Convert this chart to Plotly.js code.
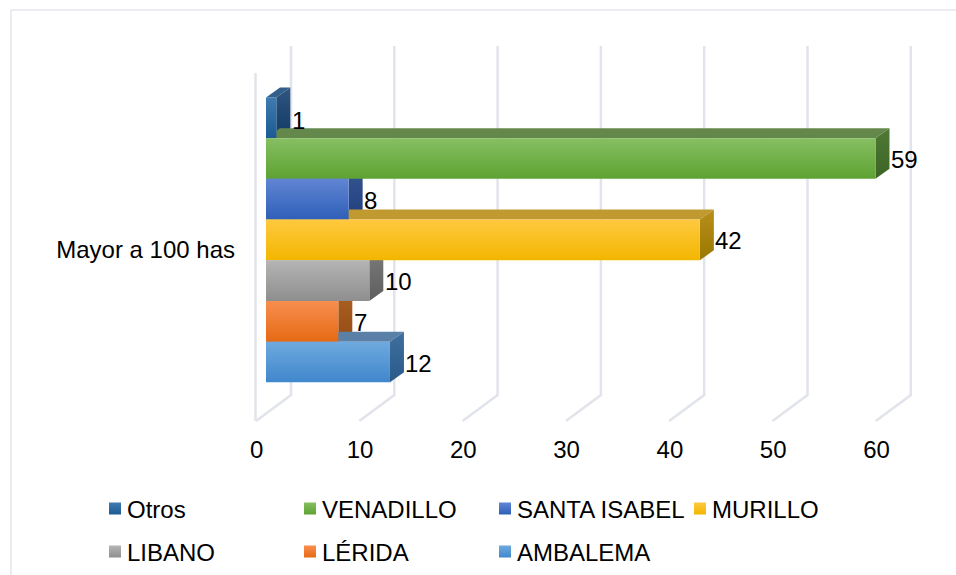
<!DOCTYPE html>
<html><head><meta charset="utf-8">
<script src="https://cdn.plot.ly/plotly-3.0.1.min.js"></script>
<style>html,body{margin:0;padding:0;background:#fff}#c{width:956px;height:575px}</style>
</head><body><div id="c"></div>
<script>
// Data (top to bottom on the chart)
const seriesNames = ['Otros','VENADILLO','SANTA ISABEL','MURILLO','LIBANO','LÉRIDA','AMBALEMA'];
const seriesValues = [1,59,8,42,10,7,12];
const categoryLabel = 'Mayor a 100 has';
const tickValues = [0,10,20,30,40,50,60];
// Colours: front gradient top/bottom, top face, side face top/bottom
const frontTop = ['#3f7bb0','#86bf62','#6085d3','#ffc93f','#b5b5b5','#f88e4f','#6fa9df'];
const frontBot = ['#1b5a94','#5ea232','#2f5fb8','#f2b600','#8e8e8e','#e56a14','#3f87cc'];
const topFace  = ['#335f8c','#64884c','#3a5c9a','#c09a30','#7f7f7f','#b8642c','#5a80a8'];
const sideTop  = ['#2f5580','#4f7a35','#35558f','#b88f1c','#7a7a7a','#ab6125','#3f6f9f'];
const sideBot  = ['#123a63','#3d6425','#213f7f','#9a7800','#5e5e5e','#964c12','#2a5a8a'];

// Scale constants of the pseudo-3D frame
const W=956,H=575,plotBottom=425,plotLeft=236,fontSize=24,fontFam='Liberation Sans, Arial, sans-serif';
const pxPerX=10.33, x0px=266, pxPerY=40.7, y0px=362;
const xOf=px=>(px-x0px)/pxPerX, yOf=px=>(y0px-px)/pxPerY;
const pX=px=>(px-plotLeft)/(W-plotLeft), pY=px=>(plotBottom-px)/plotBottom;
const depthX=14/pxPerX, depthY=10/pxPerY;
const ypos=seriesNames.map((_,i)=>seriesNames.length-1-i);
const gridColor='#e2e4ec';

const shapes=[];
// Frame
shapes.push({type:'path',xref:'paper',yref:'paper',
  path:`M ${pX(11)} ${pY(575)} L ${pX(11)} ${pY(10)} L ${pX(956)} ${pY(10)}`,
  line:{color:'#e4e6ee',width:1.5},layer:'below'});
// Left wall of the frame
shapes.push({type:'line',xref:'x',yref:'y',x0:-10.5/pxPerX,x1:-10.5/pxPerX,y0:yOf(73),y1:yOf(421),line:{color:gridColor,width:2.5},layer:'below'});
// Floor / back-wall gridlines
tickValues.forEach(t=>{
  const fx=t-10/pxPerX, bx=t+25/pxPerX;
  shapes.push({type:'path',xref:'x',yref:'y',layer:'below',line:{color:gridColor,width:2.5},
    path:`M ${fx} ${yOf(421)} L ${bx} ${yOf(395)} L ${bx} ${yOf(46)}`});
});
const firstFaceShape=shapes.length;
// Top and side faces, computed from the values
seriesValues.forEach((v,i)=>{
  const y=ypos[i], t=y+0.5, b=y-0.5;
  shapes.push({type:'path',xref:'x',yref:'y',layer:'below',fillcolor:topFace[i],line:{width:0},
    path:`M 0 ${t} L ${depthX} ${t+depthY} L ${v+depthX} ${t+depthY} L ${v} ${t} Z`});
  shapes.push({type:'path',xref:'x',yref:'y',layer:'below',fillcolor:sideBot[i],line:{width:0},
    path:`M ${v} ${t} L ${v+depthX} ${t+depthY} L ${v+depthX} ${b+depthY} L ${v} ${b} Z`});
});

const traces=seriesNames.map((n,i)=>({
  type:'bar',orientation:'h',name:n,x:[seriesValues[i]],y:[ypos[i]],width:[1],
  marker:{color:frontBot[i],line:{width:0}},
  legend:i<4?'legend':'legend2',hoverinfo:'x+name',showlegend:true,cliponaxis:false
}));

// Value labels, placed past the end of the side face
const annotations=seriesValues.map((v,i)=>({
  x:v+depthX,y:ypos[i],xref:'x',yref:'y',text:String(v),showarrow:false,xanchor:'left',yanchor:'middle',
  xshift:-0.5,yshift:i===0?-3:-1,font:{family:fontFam,size:fontSize,color:'#000'}
}));

const legendCommon={orientation:'h',xanchor:'left',yanchor:'middle',bgcolor:'rgba(0,0,0,0)',
  entrywidth:150,entrywidthmode:'pixels',font:{family:fontFam,size:fontSize,color:'#000'},
  traceorder:'normal',itemclick:false,itemdoubleclick:false};
const layout={
  width:W,height:H,margin:{l:plotLeft,r:0,t:0,b:H-plotBottom,pad:0,autoexpand:false},
  paper_bgcolor:'#fff',plot_bgcolor:'#fff',barmode:'overlay',showlegend:true,
  font:{family:fontFam,size:fontSize,color:'#000'},
  xaxis:{range:[xOf(plotLeft),xOf(W)],tickmode:'array',tickvals:tickValues.map(t=>t-9.3/pxPerX),ticktext:tickValues.map(String),
    showgrid:false,zeroline:false,showline:false,ticks:'outside',ticklen:3,tickcolor:'rgba(0,0,0,0)',tickfont:{size:fontSize}},
  yaxis:{range:[yOf(plotBottom),yOf(0)],tickmode:'array',tickvals:[yOf(250)],ticktext:[categoryLabel],
    showgrid:false,zeroline:false,showline:false,ticks:'',tickfont:{size:fontSize},automargin:false},
  legend:Object.assign({x:pX(87),y:pY(509)},legendCommon),
  legend2:Object.assign({x:pX(87),y:pY(552)},legendCommon),
  shapes,annotations
};

function paint(gd){
  const svg=gd.querySelector('svg.main-svg');
  const ns='http://www.w3.org/2000/svg';
  const defs=svg.querySelector('defs');
  const mkGrad=(id,c1,c2)=>{
    if(document.getElementById(id)) return;
    const g=document.createElementNS(ns,'linearGradient');
    g.setAttribute('id',id);g.setAttribute('x1','0');g.setAttribute('y1','0');g.setAttribute('x2','0');g.setAttribute('y2','1');
    [[0,c1],[1,c2]].forEach(([o,c])=>{const s=document.createElementNS(ns,'stop');s.setAttribute('offset',o);s.setAttribute('stop-color',c);g.appendChild(s);});
    defs.appendChild(g);
  };
  seriesNames.forEach((n,i)=>{mkGrad('gf'+i,frontTop[i],frontBot[i]);mkGrad('gs'+i,sideTop[i],sideBot[i]);});
  gd.querySelectorAll('.barlayer .trace.bars').forEach((tr,i)=>{
    tr.querySelectorAll('path').forEach(p=>{p.style.fill=`url(#gf${i})`;});
  });
  // Legend swatches: gradient plus tighter gap to the text
  gd.querySelectorAll('g.traces').forEach(tr=>{
    const txt=tr.querySelector('text');
    if(!txt) return;
    const i=seriesNames.indexOf(txt.textContent.trim());
    if(i<0) return;
    tr.querySelectorAll('.legendpoints path').forEach(p=>{p.style.fill=`url(#gf${i})`;p.style.stroke='none';});
    tr.querySelectorAll('.legendpoints').forEach(l=>l.setAttribute('transform','translate(8,0)'));
  });
  // Side faces: vertical gradient
  gd.querySelectorAll('.shapelayer path').forEach(p=>{
    const k=Number(p.getAttribute('data-index'))-firstFaceShape;
    if(k>=0 && k%2===1) p.style.fill=`url(#gs${(k-1)/2})`;
  });
}
Plotly.newPlot('c',traces,layout,{displayModeBar:false}).then(gd=>{
  paint(gd);
  gd.on('plotly_afterplot',()=>paint(gd));
});
</script></body></html>
